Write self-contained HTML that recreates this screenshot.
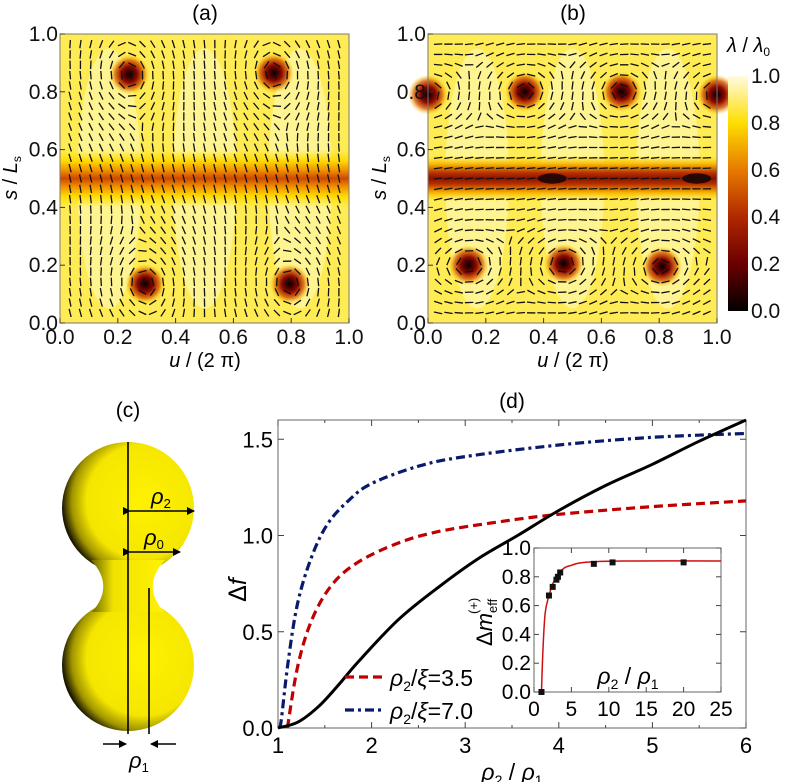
<!DOCTYPE html>
<html><head><meta charset="utf-8">
<style>
body{margin:0;background:#fff;width:787px;height:782px;overflow:hidden}
svg{display:block;font-family:"Liberation Sans",sans-serif}
</style></head>
<body>
<svg id="fig" width="787" height="782" viewBox="0 0 787 782">
<defs>
<radialGradient id="vort">
<stop offset="0" stop-color="#000"/><stop offset="0.15" stop-color="#3a0000"/>
<stop offset="0.4" stop-color="#8e0a00"/><stop offset="0.7" stop-color="#d45a00" stop-opacity="0.8"/>
<stop offset="1" stop-color="#ffd000" stop-opacity="0"/>
</radialGradient>
<linearGradient id="bandA" x1="0" y1="0" x2="0" y2="1">
<stop offset="0" stop-color="#ffe200" stop-opacity="0"/><stop offset="0.2" stop-color="#ffd800"/>
<stop offset="0.36" stop-color="#f09000"/><stop offset="0.5" stop-color="#cc4800"/>
<stop offset="0.64" stop-color="#f09000"/><stop offset="0.8" stop-color="#ffd800"/>
<stop offset="1" stop-color="#ffe200" stop-opacity="0"/>
</linearGradient>
<linearGradient id="bandB" x1="0" y1="0" x2="0" y2="1">
<stop offset="0" stop-color="#ffe200" stop-opacity="0"/><stop offset="0.2" stop-color="#f5b000"/>
<stop offset="0.38" stop-color="#b83000"/><stop offset="0.5" stop-color="#8a1200"/>
<stop offset="0.62" stop-color="#b83000"/><stop offset="0.8" stop-color="#f5b000"/>
<stop offset="1" stop-color="#ffe200" stop-opacity="0"/>
</linearGradient>
<linearGradient id="cbar" x1="0" y1="1" x2="0" y2="0">
<stop offset="0" stop-color="#000"/><stop offset="0.2" stop-color="#6a0000"/>
<stop offset="0.4" stop-color="#b02800"/><stop offset="0.6" stop-color="#e67a00"/>
<stop offset="0.8" stop-color="#ffde00"/><stop offset="1" stop-color="#fffbe0"/>
</linearGradient>
<radialGradient id="ball" cx="0.62" cy="0.45" r="0.62">
<stop offset="0" stop-color="#fff200"/><stop offset="0.7" stop-color="#f5e600"/>
<stop offset="0.88" stop-color="#a09400"/><stop offset="1" stop-color="#1a1800"/>
</radialGradient>
<linearGradient id="neck" x1="0" y1="0" x2="1" y2="0">
<stop offset="0" stop-color="#6a6400"/><stop offset="0.3" stop-color="#f0e200"/><stop offset="1" stop-color="#fff200"/>
</linearGradient>
<marker id="arr" markerWidth="8" markerHeight="8" refX="7" refY="4" orient="auto" markerUnits="userSpaceOnUse"><path d="M0,0L8,4L0,8z" fill="#000"/></marker>
</defs>
<g id="root"></g>
</svg>
<script>
// ===== panel (d) data =====
const blackX=[1,1.21,1.43,1.64,1.85,2.28,2.71,3.14,3.56,4,4.5,5,5.5,6];
const blackY=[0,0.03,0.11,0.22,0.34,0.56,0.73,0.88,1.0,1.13,1.26,1.37,1.49,1.6];
const redX=[1.1,1.21,1.36,1.57,1.85,2.28,2.71,3.35,4,5,6];
const redY=[0,0.32,0.56,0.74,0.86,0.96,1.02,1.07,1.11,1.15,1.18];
const blueX=[1.02,1.04,1.11,1.21,1.36,1.53,1.75,2,2.5,3,4,5,6];
const blueY=[0,0.06,0.35,0.65,0.89,1.06,1.18,1.27,1.36,1.41,1.47,1.51,1.53];
const dTicksX=[1,2,3,4,5,6];
const dTicksY=[0,0.5,1.0,1.5];
const dTickLabelsY=["0.0","0.5","1.0","1.5"];
// inset
const insetPtX=[1,2,2.5,3,3.2,3.5,8,10.5,20];
const insetPtY=[0,0.67,0.73,0.78,0.8,0.83,0.89,0.9,0.9];
const fitX=[1,1.2,1.5,2,2.5,3,4,5,6,8,12,25];
const fitY=[0,0.3,0.55,0.67,0.75,0.8,0.86,0.88,0.895,0.905,0.91,0.91];
const insetTicksX=[0,5,10,15,20,25];
const insetTicksY=[0,0.2,0.4,0.6,0.8,1.0];
const insetTickLabelsY=["0.0","0.2","0.4","0.6","0.8","1.0"];
// heatmap ticks
const hmTicks=[0,0.2,0.4,0.6,0.8,1.0];
const hmTickLabels=["0.0","0.2","0.4","0.6","0.8","1.0"];
const vortA=[[0.24,0.86],[0.74,0.865],[0.295,0.135],[0.795,0.135]];
const vortB=[[0,0.79],[0.335,0.8],[0.67,0.8],[1,0.79],[0.14,0.2],[0.47,0.205],[0.81,0.195]];
const bandSpotsB=[[0.43,0.5],[0.93,0.5]];

const NS="http://www.w3.org/2000/svg";
const root=document.getElementById('root');
function mk(tag,attrs,parent,text){const e=document.createElementNS(NS,tag);for(const k in attrs)e.setAttribute(k,attrs[k]);if(text!==undefined)e.textContent=text;(parent||root).appendChild(e);return e;}

function heatmap(id,x0,y0,w,h,band,vorts,spots,base){
  const g=mk('g',{});
  
  
  const sx=v=>x0+v*w, sy=v=>y0+h-v*h;
  mk('rect',{x:x0,y:y0,width:w,height:h,fill:'#ffec55'},g);
  for(let i=0;i<3;i++)mk('ellipse',{cx:sx(0.17+i*0.33),cy:sy(0.5),rx:w*0.11,ry:h*0.45,fill:'#fffbd0',opacity:0.5},g);
  const bh=band==='bandA'?0.2:0.16;
  mk('rect',{x:x0,y:sy(0.5+bh/2),width:w,height:bh*h,fill:'url(#'+band+')'},g);
  vorts.forEach(v=>{const c=mk('circle',{cx:sx(v[0]),cy:sy(v[1]),r:w*0.07,fill:'url(#vort)'},g);
    });
  spots.forEach(v=>{const c=mk('ellipse',{cx:sx(v[0]),cy:sy(v[1]),rx:w*0.05,ry:h*0.018,fill:'#1a0000',opacity:0.85},g);
    });
  const n=27;
  for(let i=0;i<n;i++)for(let j=0;j<n;j++){
    const u=0.035+i*(0.93/(n-1)), s=0.035+j*(0.93/(n-1));
    let cx=Math.cos(2*base)*0.3, cy=Math.sin(2*base)*0.3;
    vorts.forEach(v=>{const dx=u-v[0],dy=s-v[1];const r=Math.hypot(dx,dy)+1e-6;
      const a=Math.atan2(dy,dx)+Math.PI/2;const wgt=Math.exp(-r/0.14);cx+=Math.cos(2*a)*wgt;cy+=Math.sin(2*a)*wgt;});
    const ang=Math.atan2(cy,cx)/2;
    const L=4.2, px=sx(u), py=sy(s);
    mk('line',{x1:px-L*Math.cos(ang),y1:py+L*Math.sin(ang),x2:px+L*Math.cos(ang),y2:py-L*Math.sin(ang),stroke:'#111','stroke-width':1.3},g);
  }
  mk('rect',{x:x0,y:y0,width:w,height:h,fill:'none',stroke:'#777','stroke-width':1},g);
  hmTicks.forEach((t,k)=>{
    mk('line',{x1:sx(t),y1:y0+h,x2:sx(t),y2:y0+h-5,stroke:'#333'},g);
    mk('line',{x1:x0,y1:sy(t),x2:x0+5,y2:sy(t),stroke:'#333'},g);
    const tx=mk('text',{x:sx(t),y:y0+h+21,'font-size':21,'text-anchor':'middle',fill:'#111'},g,hmTickLabels[k]);
    
    const ty=mk('text',{x:x0-2,y:sy(t)+7,'font-size':21,'text-anchor':'end',fill:'#111'},g,hmTickLabels[k]);
    
  });
}
heatmap('a',60,34,289,289,'bandA',vortA,[],1.75);
heatmap('b',428,34,289,289,'bandB',vortB,bandSpotsB,0.15);

const cb=mk('g',{});
mk('rect',{x:728,y:76,width:20,height:235,fill:'url(#cbar)'},cb);
hmTicks.forEach((t,k)=>{const y=311-t*235;
  const tl=mk('text',{x:751,y:y+7,'font-size':21,fill:'#111'},cb,hmTickLabels[k]);
  });

// panel (d)
const dX0=278,dX1=746,dY0=420,dY1=728;
const dx=v=>dX0+(v-1)*(dX1-dX0)/5, dy=v=>dY1-v*(dY1-dY0)/1.6;
const gd=mk('g',{});
mk('rect',{x:dX0,y:dY0,width:dX1-dX0,height:dY1-dY0,fill:'#fff',stroke:'#666'},gd);
dTicksX.forEach(t=>{mk('line',{x1:dx(t),y1:dY1,x2:dx(t),y2:dY1-6,stroke:'#444'},gd);mk('line',{x1:dx(t),y1:dY0,x2:dx(t),y2:dY0+6,stroke:'#444'},gd);
  const e=mk('text',{x:dx(t),y:dY1+25,'font-size':22,'text-anchor':'middle'},gd,String(t));
  if(t<6){const m=t+0.5;mk('line',{x1:dx(m),y1:dY1,x2:dx(m),y2:dY1-3,stroke:'#444'},gd);mk('line',{x1:dx(m),y1:dY0,x2:dx(m),y2:dY0+3,stroke:'#444'},gd);}});
dTicksY.forEach((t,k)=>{mk('line',{x1:dX0,y1:dy(t),x2:dX0+6,y2:dy(t),stroke:'#444'},gd);mk('line',{x1:dX1,y1:dy(t),x2:dX1-6,y2:dy(t),stroke:'#444'},gd);
  const e=mk('text',{x:dX0-5,y:dy(t)+8,'font-size':22,'text-anchor':'end'},gd,dTickLabelsY[k]);});
function curve(xs,ys,fx,fy,attrs,name,par){
  const P=xs.map((x,i)=>[fx(x),fy(ys[i])]);
  let d='M'+P[0][0].toFixed(1)+','+P[0][1].toFixed(1);
  for(let i=0;i<P.length-1;i++){
    const p0=P[Math.max(0,i-1)],p1=P[i],p2=P[i+1],p3=P[Math.min(P.length-1,i+2)];
    const c1=[p1[0]+(p2[0]-p0[0])/6,p1[1]+(p2[1]-p0[1])/6];
    const c2=[p2[0]-(p3[0]-p1[0])/6,p2[1]-(p3[1]-p1[1])/6];
    d+='C'+c1.map(v=>v.toFixed(1)).join(',')+' '+c2.map(v=>v.toFixed(1)).join(',')+' '+p2.map(v=>v.toFixed(1)).join(',');
  }
  const p=mk('path',Object.assign({d:d,fill:'none'},attrs),par);
  return p;}
curve(redX,redY,dx,dy,{stroke:'#c00000','stroke-width':3.2,'stroke-dasharray':'9,5'},'series-rho-xi-3.5',gd);
curve(blueX,blueY,dx,dy,{stroke:'#0a1a6a','stroke-width':3.2,'stroke-dasharray':'9,4,3,4'},'series-rho-xi-7.0',gd);
curve(blackX,blackY,dx,dy,{stroke:'#000','stroke-width':3},'series-black',gd);
const lg=mk('g',{});
mk('line',{x1:345,y1:677,x2:385,y2:677,stroke:'#c00000','stroke-width':3.2,'stroke-dasharray':'9,5'},lg);
mk('text',{x:390,y:686,'font-size':23},lg).innerHTML='<tspan font-style="italic">ρ</tspan><tspan font-size="14" dy="5">2</tspan><tspan dy="-5">/</tspan><tspan font-style="italic">ξ</tspan>=3.5';
mk('line',{x1:345,y1:710,x2:385,y2:710,stroke:'#0a1a6a','stroke-width':3.2,'stroke-dasharray':'9,4,3,4'},lg);
mk('text',{x:390,y:719,'font-size':23},lg).innerHTML='<tspan font-style="italic">ρ</tspan><tspan font-size="14" dy="5">2</tspan><tspan dy="-5">/</tspan><tspan font-style="italic">ξ</tspan>=7.0';

// inset
const iX0=534,iX1=721,iY0=548,iY1=692;
const ix=v=>iX0+v*(iX1-iX0)/25, iy=v=>iY1-v*(iY1-iY0);
const gi=mk('g',{});
mk('rect',{x:iX0,y:iY0,width:iX1-iX0,height:iY1-iY0,fill:'#fff',stroke:'#666'},gi);
insetTicksX.forEach(t=>{mk('line',{x1:ix(t),y1:iY1,x2:ix(t),y2:iY1-5,stroke:'#444'},gi);mk('line',{x1:ix(t),y1:iY0,x2:ix(t),y2:iY0+5,stroke:'#444'},gi);
  const e=mk('text',{x:ix(t),y:iY1+24,'font-size':21,'text-anchor':'middle'},gi,String(t));});
insetTicksY.forEach((t,k)=>{mk('line',{x1:iX0,y1:iy(t),x2:iX0+5,y2:iy(t),stroke:'#444'},gi);mk('line',{x1:iX1,y1:iy(t),x2:iX1-5,y2:iy(t),stroke:'#444'},gi);
  const e=mk('text',{x:iX0-3,y:iy(t)+7,'font-size':21,'text-anchor':'end'},gi,insetTickLabelsY[k]);});
curve(fitX,fitY,ix,iy,{stroke:'#d01010','stroke-width':1.5},'inset-fit-line',gi);
insetPtX.forEach((x,i)=>{const r=mk('rect',{x:ix(x)-3,y:iy(insetPtY[i])-3,width:6,height:6,fill:'#111'},gi);
  });
</script>

<svg width="787" height="782" style="position:absolute;left:0;top:0" font-family="Liberation Sans, sans-serif">
<text x="205" y="20" font-size="21" text-anchor="middle">(a)</text>
<text x="573" y="20" font-size="21" text-anchor="middle">(b)</text>
<text x="128" y="417" font-size="21" text-anchor="middle">(c)</text>
<text x="512" y="408" font-size="21" text-anchor="middle">(d)</text>
<text transform="translate(17,178) rotate(-90)" font-size="20" text-anchor="middle"><tspan font-style="italic">s</tspan> / <tspan font-style="italic">L</tspan><tspan font-size="12" dy="4">s</tspan></text>
<text transform="translate(386,178) rotate(-90)" font-size="20" text-anchor="middle"><tspan font-style="italic">s</tspan> / <tspan font-style="italic">L</tspan><tspan font-size="12" dy="4">s</tspan></text>
<text x="205" y="367" font-size="20" text-anchor="middle"><tspan font-style="italic">u</tspan> / (2 π)</text>
<text x="573" y="367" font-size="20" text-anchor="middle"><tspan font-style="italic">u</tspan> / (2 π)</text>
<text x="727" y="52" font-size="20"><tspan font-style="italic">λ</tspan> / <tspan font-style="italic">λ</tspan><tspan font-size="12" dy="4">0</tspan></text>
<text transform="translate(246,590) rotate(-90)" font-size="25" text-anchor="middle">Δ<tspan font-style="italic">f</tspan></text>
<text x="512" y="780" font-size="23" text-anchor="middle"><tspan font-style="italic">ρ</tspan><tspan font-size="14" dy="5">2</tspan><tspan dy="-5"> / </tspan><tspan font-style="italic">ρ</tspan><tspan font-size="14" dy="5">1</tspan></text>
<text x="628" y="684" font-size="23" text-anchor="middle"><tspan font-style="italic">ρ</tspan><tspan font-size="14" dy="5">2</tspan><tspan dy="-5"> / </tspan><tspan font-style="italic">ρ</tspan><tspan font-size="14" dy="5">1</tspan></text>
<g transform="translate(492,620) rotate(-90)">
<text x="-26" y="0" font-size="22">Δ<tspan font-style="italic">m</tspan><tspan font-size="13" dy="5">eff</tspan></text>
<text x="6" y="-14" font-size="13">(+)</text>
</g>
<g>
<circle cx="128" cy="508" r="66" fill="url(#ball)"/>
<circle cx="128" cy="665" r="66" fill="url(#ball)"/>
<path d="M91,560 Q115,586 92,612 L164,612 Q141,586 165,560Z" fill="url(#neck)"/>
</g>
<g stroke="#000" stroke-width="1.6">
<line x1="128" y1="442" x2="128" y2="734"/>
<line x1="149" y1="588" x2="149" y2="734"/>
<line x1="130" y1="511" x2="194" y2="511" marker-start="url(#arr)" marker-end="url(#arr)"/>
<line x1="130" y1="552" x2="180" y2="552" marker-start="url(#arr)" marker-end="url(#arr)"/>
<line x1="103" y1="744" x2="126" y2="744" marker-end="url(#arr)"/>
<line x1="176" y1="744" x2="151" y2="744" marker-end="url(#arr)"/>
</g>
<text x="151" y="504" font-size="22"><tspan font-style="italic">ρ</tspan><tspan font-size="13" dy="4">2</tspan></text>
<text x="144" y="545" font-size="22"><tspan font-style="italic">ρ</tspan><tspan font-size="13" dy="4">0</tspan></text>
<text x="129" y="768" font-size="22"><tspan font-style="italic">ρ</tspan><tspan font-size="13" dy="4">1</tspan></text>
</svg>
</body></html>
